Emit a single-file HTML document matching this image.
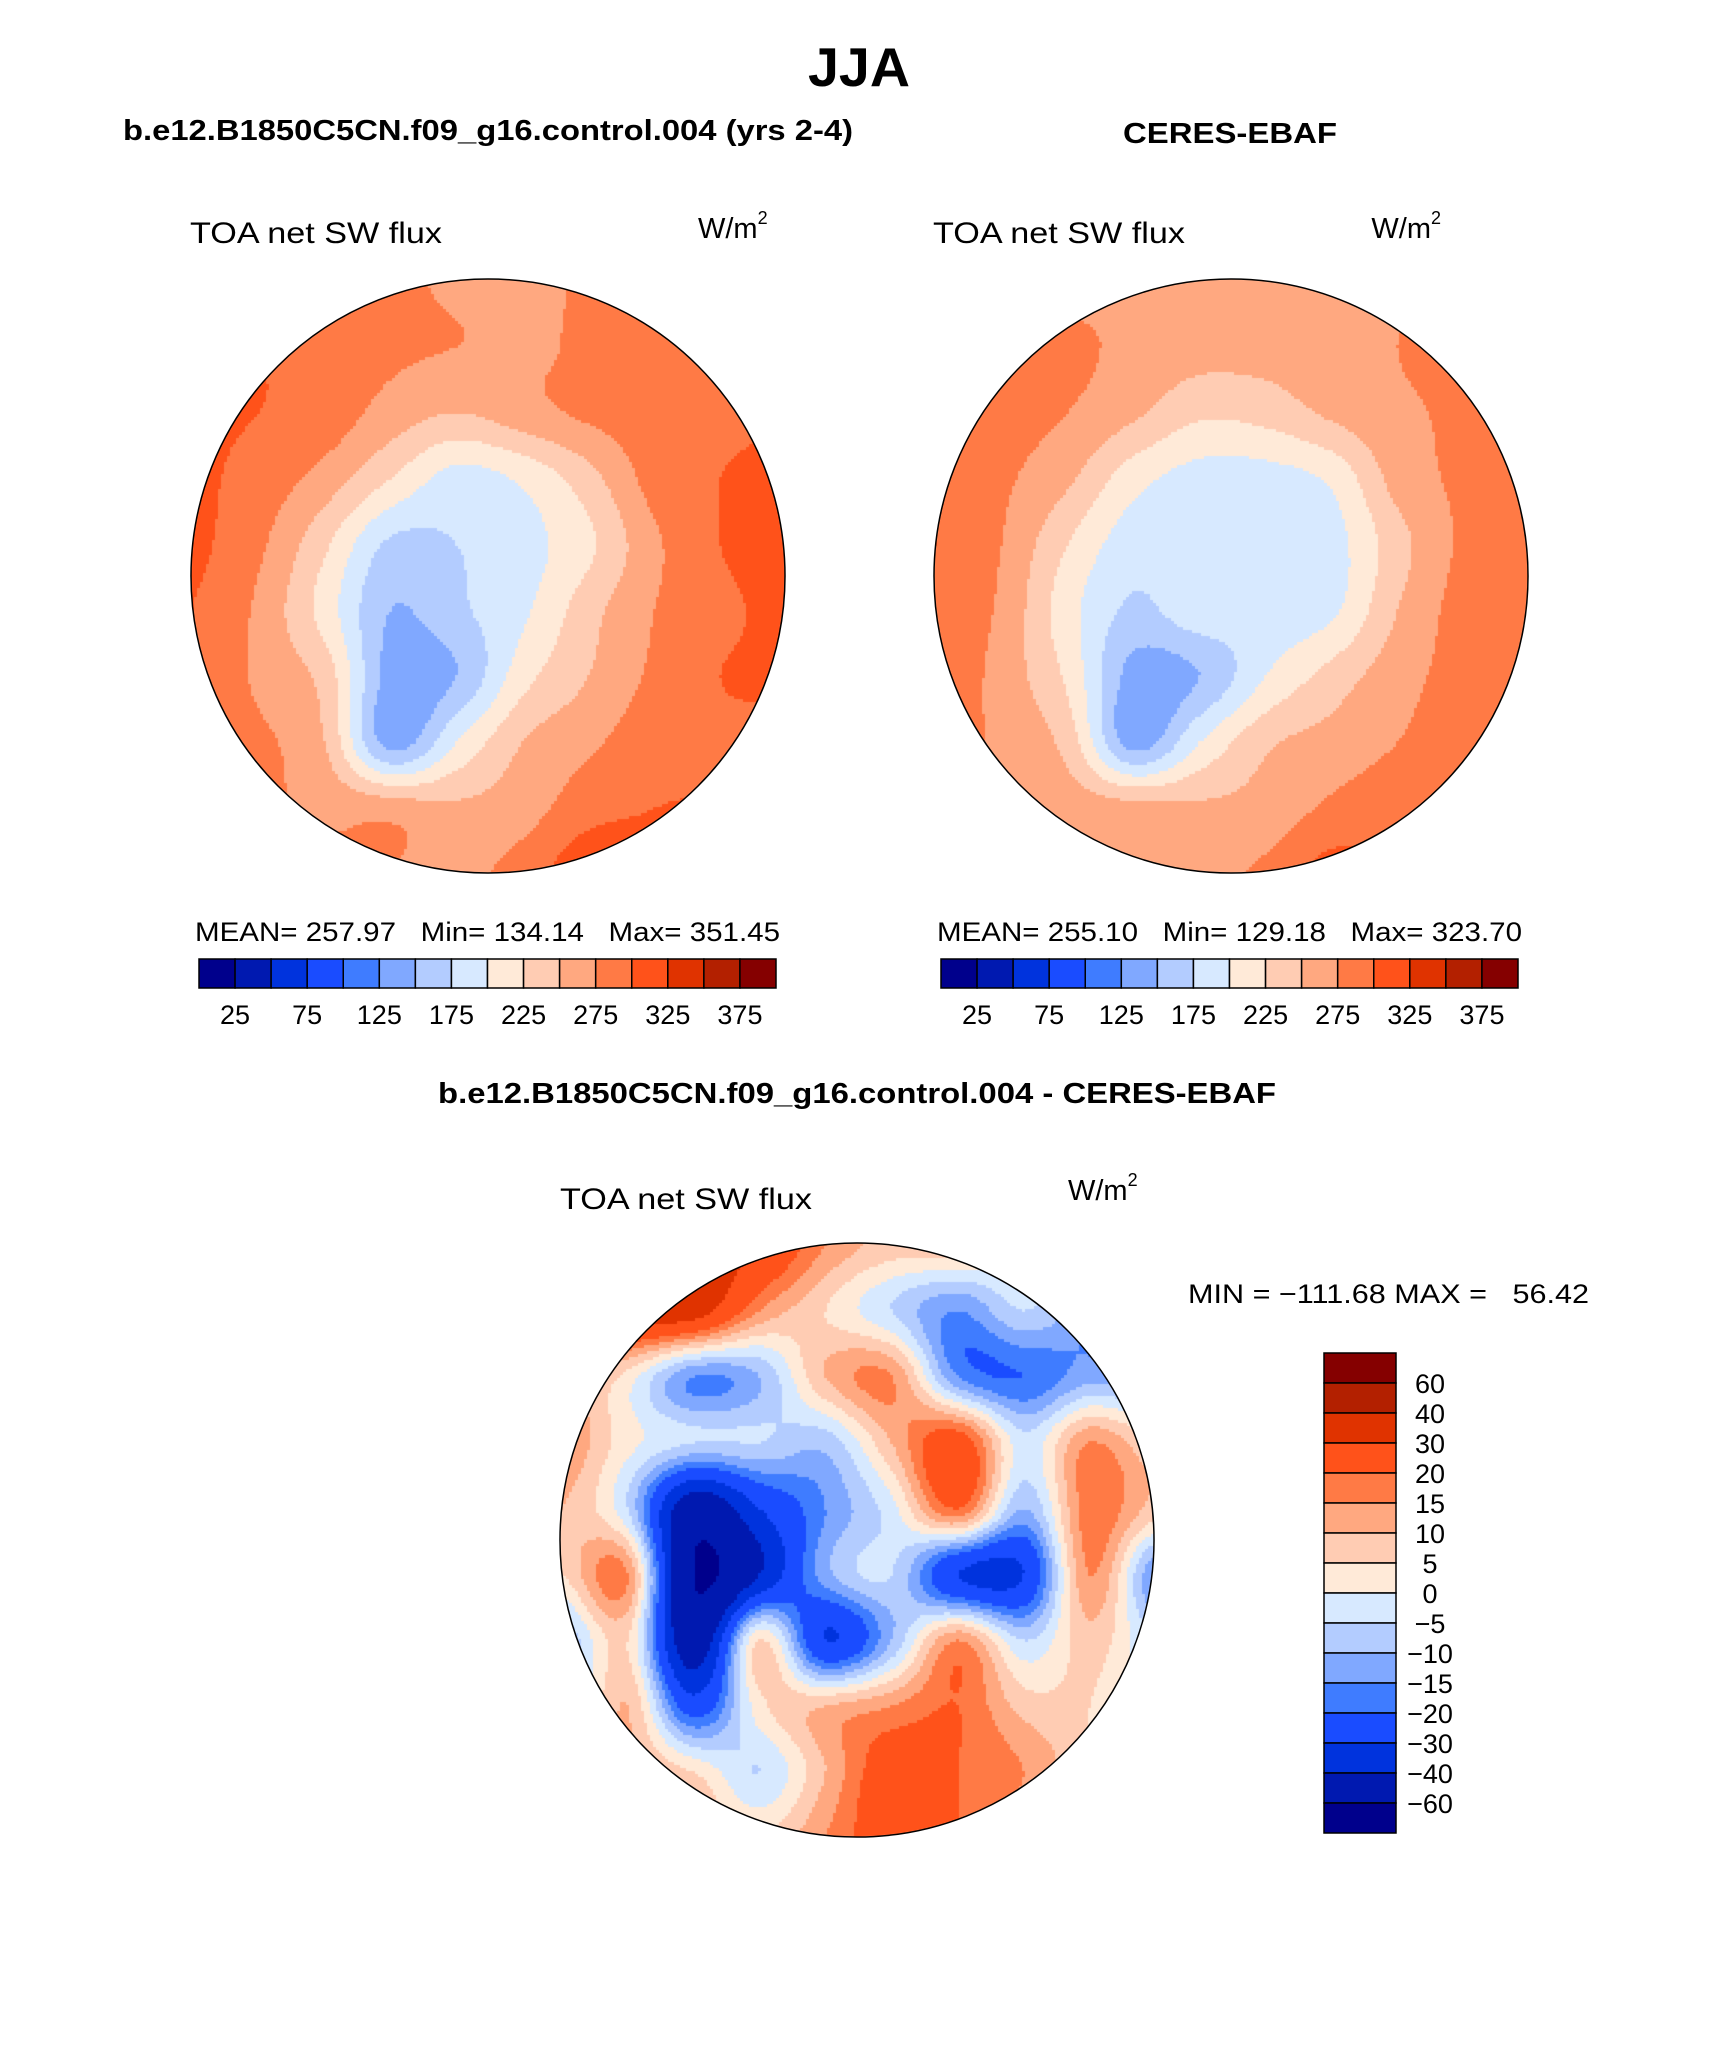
<!DOCTYPE html>
<html><head><meta charset="utf-8">
<style>
html,body{margin:0;padding:0;background:#fff;}
#wrap{position:relative;width:1710px;height:2061px;overflow:hidden;}
canvas{position:absolute;}
svg{position:absolute;left:0;top:0;}
</style></head>
<body>
<div id="wrap">
<canvas id="mapModel" width="600" height="600" style="left:188px;top:276px"></canvas>
<canvas id="mapObs" width="600" height="600" style="left:931px;top:276px"></canvas>
<canvas id="mapDiff" width="600" height="600" style="left:557px;top:1240px"></canvas>
<svg id="svg" width="1710" height="2061" xmlns="http://www.w3.org/2000/svg" font-family="Liberation Sans, sans-serif">
<text x="859" y="86" font-size="55" font-weight="bold" text-anchor="middle" textLength="102" lengthAdjust="spacingAndGlyphs">JJA</text>
<text x="123" y="140" font-size="29" font-weight="bold" textLength="730" lengthAdjust="spacingAndGlyphs">b.e12.B1850C5CN.f09_g16.control.004 (yrs 2-4)</text>
<text x="1123" y="143" font-size="29" font-weight="bold" textLength="214" lengthAdjust="spacingAndGlyphs">CERES-EBAF</text>
<text x="438" y="1103" font-size="29" font-weight="bold" textLength="838" lengthAdjust="spacingAndGlyphs">b.e12.B1850C5CN.f09_g16.control.004 - CERES-EBAF</text>

<text x="190" y="243" font-size="30" textLength="252" lengthAdjust="spacingAndGlyphs">TOA net SW flux</text>
<text x="698" y="238" font-size="29">W/m<tspan font-size="18" dy="-14">2</tspan></text>
<text x="933" y="243" font-size="30" textLength="252" lengthAdjust="spacingAndGlyphs">TOA net SW flux</text>
<text x="1441" y="238" font-size="29" text-anchor="end">W/m<tspan font-size="18" dy="-14">2</tspan></text>
<text x="560" y="1209" font-size="30" textLength="252" lengthAdjust="spacingAndGlyphs">TOA net SW flux</text>
<text x="1068" y="1200" font-size="29">W/m<tspan font-size="18" dy="-14">2</tspan></text>

<text x="195" y="941" font-size="27" textLength="585" lengthAdjust="spacingAndGlyphs" xml:space="preserve">MEAN= 257.97   Min= 134.14   Max= 351.45</text>
<text x="937" y="941" font-size="27" textLength="585" lengthAdjust="spacingAndGlyphs" xml:space="preserve">MEAN= 255.10   Min= 129.18   Max= 323.70</text>
<text x="1188" y="1303" font-size="27" textLength="401" lengthAdjust="spacingAndGlyphs" xml:space="preserve">MIN = −111.68 MAX =   56.42</text>

<circle cx="488" cy="576" r="297" fill="none" stroke="#000" stroke-width="1.5"/>
<circle cx="1231" cy="576" r="297" fill="none" stroke="#000" stroke-width="1.5"/>
<circle cx="857" cy="1540" r="297" fill="none" stroke="#000" stroke-width="1.5"/>
<g id="bars"></g>
</svg>
</div>
<script>
// ---- data ----
const fluxColors = ['#00008c','#0019b0','#0033dd','#1a4cff','#3f7cff','#80a8ff','#b3ccff','#d7e9ff','#ffead8','#ffccb3','#ffa880','#ff7a45','#ff521a','#e03300','#b32000','#850000'];
const fluxLevels = [25,50,75,100,125,150,175,200,225,250,275,300,325,350,375];
const fluxTickLabels = ['25','75','125','175','225','275','325','375'];
const diffLevels = [-60,-40,-30,-20,-15,-10,-5,0,5,10,15,20,30,40,60];
const diffTickLabels = ['-60','-40','-30','-20','-15','-10','-5','0','5','10','15','20','30','40','60'];
const modelGrid = [
[290,290,270,280,270,265,280,285,290,290],
[310,300,285,280,275,270,280,290,300,300],
[305,300,290,265,250,265,280,290,295,300],
[305,290,265,225,190,205,240,285,300,305],
[305,280,230,170,175,190,220,270,300,305],
[300,270,215,150,170,195,240,275,295,305],
[300,270,240,140,150,215,250,280,300,300],
[290,280,250,140,200,250,270,290,295,300],
[285,280,270,265,255,265,290,300,300,295],
[285,285,280,275,270,285,320,310,300,295]];
const obsGrid = [
[275,275,270,265,255,260,265,270,280,285],
[295,290,280,270,260,260,265,275,285,290],
[295,285,275,255,230,235,255,270,280,290],
[300,280,255,210,190,190,205,260,280,295],
[300,275,225,185,185,185,190,240,280,295],
[295,270,210,170,190,185,195,250,285,300],
[295,265,220,140,150,200,235,265,285,300],
[285,270,240,140,200,245,260,275,290,300],
[280,275,265,260,255,260,280,290,295,295],
[280,280,275,270,270,280,310,300,290,290]];
const diffGrid = [
[30,30,35,30,15,8,8,0,-10,-10],
[30,35,35,15,5,-5,-15,-5,-15,-25],
[15,3,-15,-10,10,15,-15,-20,-12,-15],
[15,2,-5,-5,-8,10,25,-3,15,5],
[10,-5,-50,-30,-15,-2,20,-10,18,8],
[5,15,-60,-40,-12,-5,-30,-30,15,-15],
[-10,5,-50,5,-30,-10,15,-5,8,-5],
[-10,10,-25,3,10,15,20,8,5,-5],
[5,10,5,-5,10,25,20,15,5,-5],
[10,8,10,5,15,25,20,10,5,0]];

function colorIndex(v, levels){let i=0;while(i<levels.length&&v>=levels[i])i++;return i;}
function cub(p0,p1,p2,p3,t){return p1+0.5*t*(p2-p0+t*(2*p0-5*p1+4*p2-p3+t*(3*(p1-p2)+p3-p0)));}
function sample(g,u,v){
  const n=g.length, x=u*(n-1), y=v*(n-1);
  const i=Math.min(n-2,Math.floor(x)), j=Math.min(n-2,Math.floor(y));
  const fx=x-i, fy=y-j;
  const G=(a,b)=>g[Math.max(0,Math.min(n-1,b))][Math.max(0,Math.min(n-1,a))];
  const rows=[];
  for(let k=-1;k<=2;k++) rows.push(cub(G(i-1,j+k),G(i,j+k),G(i+1,j+k),G(i+2,j+k),fx));
  return cub(rows[0],rows[1],rows[2],rows[3],fy);
}
function drawMap(id,grid,levels){
  const c=document.getElementById(id), ctx=c.getContext('2d');
  const R=297, cx=300, cy=300, step=3;
  ctx.save();ctx.beginPath();ctx.arc(cx,cy,R,0,Math.PI*2);ctx.clip();
  for(let y=cy-R;y<cy+R;y+=step){for(let x=cx-R;x<cx+R;x+=step){
    const val=sample(grid,(x-cx+R)/(2*R),(y-cy+R)/(2*R));
    ctx.fillStyle=fluxColors[colorIndex(val,levels)];
    ctx.fillRect(x,y,step,step);
  }}
  ctx.restore();
}
drawMap('mapModel',modelGrid,fluxLevels);
drawMap('mapObs',obsGrid,fluxLevels);
drawMap('mapDiff',diffGrid,diffLevels);

const NS='http://www.w3.org/2000/svg';
const bars=document.getElementById('bars');
function mk(tag,attrs){const e=document.createElementNS(NS,tag);for(const k in attrs)e.setAttribute(k,attrs[k]);bars.appendChild(e);return e;}
function hbar(x0,prefix){
  const y=959,h=29,w=577/16;
  fluxColors.forEach((col,i)=>{
    const r=mk('rect',{x:x0+i*w,y:y,width:w,height:h,fill:col,stroke:'#000','stroke-width':1.5});
    
    
  });
  fluxTickLabels.forEach((t,k)=>{
    const tx=mk('text',{x:x0+(2*k+1)*w,y:1024,'font-size':27,'text-anchor':'middle'});
    tx.textContent=t;
    
    
  });
}
hbar(199,'model');
hbar(941,'obs');
(function(){
  const x=1324,w=72,y0=1353,h=30;
  for(let i=0;i<16;i++){
    const r=mk('rect',{x:x,y:y0+i*h,width:w,height:h,fill:fluxColors[15-i],stroke:'#000','stroke-width':1.5});
    
    
  }
  for(let k=0;k<15;k++){
    const lab=diffTickLabels[14-k].replace('-','\u2212');
    const tx=mk('text',{x:1430,y:y0+(k+1)*h+10,'font-size':27,'text-anchor':'middle'});
    tx.textContent=lab;
    
    
  }
})();
</script>
</body></html>
